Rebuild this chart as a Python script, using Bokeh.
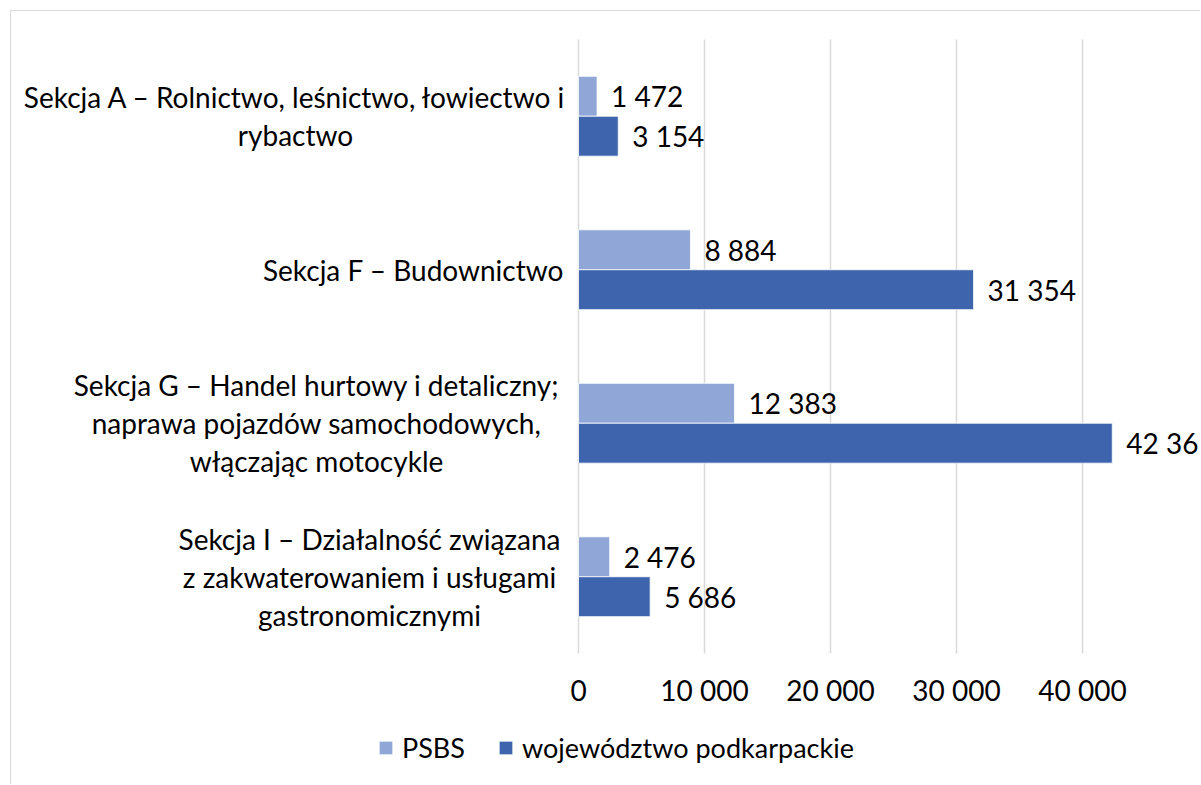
from bokeh.plotting import figure
from bokeh.models import (ColumnDataSource, LabelSet, Range1d, Legend, LegendItem)
from bokeh.core.properties import value
from bokeh.embed import file_html
from bokeh.resources import INLINE

# ---- data ----
categories = [
    "Sekcja A – Rolnictwo, leśnictwo, łowiectwo i\nrybactwo",
    "Sekcja F – Budownictwo",
    "Sekcja G – Handel hurtowy i detaliczny;\nnaprawa pojazdów samochodowych,\nwłączając motocykle",
    "Sekcja I – Działalność związana\nz zakwaterowaniem i usługami\ngastronomicznymi",
]
series_names = ["PSBS", "województwo podkarpackie"]
psbs = [1472, 8884, 12383, 2476]
podkarpackie = [3154, 31354, 42361, 5686]
x_ticks = [0, 10000, 20000, 30000, 40000]
x_tick_labels = ["0", "10 000", "20 000", "30 000", "40 000"]

# ---- style / layout ----
FONT = value("Lato")
FS_PX = "28px"
FS = value(FS_PX)
LIGHT = "#8FA6D6"
DARK = "#3D64AD"
GRID = "#D9D9D9"
BAR_H = 0.26
# horizontal offsets (px) of the category label block centres from the value axis 0
cat_offsets = [-283, -165, -262, -209]
LINE_SPACING = 38      # px between wrapped category label lines
TICK_LABEL_DROP = 37   # px below the plotting band


def fmt(v):
    return f"{v:,}".replace(",", " ")


n = len(categories)
idx = list(range(n))
band_lo, band_hi = -0.5, n - 0.5

p = figure(width=1190, height=774, output_backend="svg", toolbar_location=None,
           x_range=Range1d(-45000, 49444),
           y_range=Range1d(band_hi + 0.86, band_lo - 0.1824),
           min_border_left=0, min_border_right=0, min_border_top=0,
           min_border_bottom=0)
p.styles = {"margin-left": "10px", "margin-top": "10px",
            "border-left": "1px solid #d9d9d9", "border-top": "1px solid #d9d9d9"}
p.outline_line_color = None
p.background_fill_color = "white"
p.border_fill_color = "white"
p.xaxis.visible = False
p.yaxis.visible = False
p.xgrid.visible = False
p.ygrid.visible = False

# vertical gridlines at the value ticks, spanning the category band
grid_src = ColumnDataSource(dict(x=x_ticks, y0=[band_lo] * len(x_ticks),
                                 y1=[band_hi] * len(x_ticks), t=x_tick_labels))
p.segment(x0="x", y0="y0", x1="x", y1="y1", source=grid_src,
          line_color=GRID, line_width=1.5)

src_a = ColumnDataSource(dict(y=[i - BAR_H / 2 for i in idx], v=psbs,
                              t=[fmt(v) for v in psbs]))
src_b = ColumnDataSource(dict(y=[i + BAR_H / 2 for i in idx], v=podkarpackie,
                              t=[fmt(v) for v in podkarpackie]))

r_a = p.hbar(y="y", left=0, right="v", height=BAR_H, source=src_a,
             fill_color=LIGHT, line_color="white", line_width=0.8)
r_b = p.hbar(y="y", left=0, right="v", height=BAR_H, source=src_b,
             fill_color=DARK, line_color="white", line_width=0.8)

for s in (src_a, src_b):
    p.add_layout(LabelSet(x="v", y="y", text="t", source=s, x_offset=14,
                          text_baseline="middle", text_align="left",
                          text_font=FONT, text_font_size=FS, text_color="black"))

# category labels: one centred label per wrapped line
lx, ly, lt, lxo, lyo = [], [], [], [], []
for i, (cat, off) in enumerate(zip(categories, cat_offsets)):
    lines = cat.split("\n")
    m = len(lines)
    for j, line in enumerate(lines):
        lx.append(0)
        ly.append(i)
        lt.append(line)
        lxo.append(off)
        lyo.append(((m - 1) / 2 - j) * LINE_SPACING)
cat_src = ColumnDataSource(dict(x=lx, y=ly, t=lt, xo=lxo, yo=lyo))
p.add_layout(LabelSet(x="x", y="y", text="t", source=cat_src, x_offset="xo",
                      y_offset="yo", text_align="center", text_baseline="middle",
                      text_font=FONT, text_font_size=FS, text_color="black"))

# value-axis tick labels
p.add_layout(LabelSet(x="x", y="y1", text="t", source=grid_src,
                      y_offset=-TICK_LABEL_DROP, text_align="center",
                      text_baseline="middle", text_font=FONT, text_font_size=FS,
                      text_color="black"))

legend = Legend(items=[LegendItem(label=series_names[0], renderers=[r_a]),
                       LegendItem(label=series_names[1], renderers=[r_b])],
                orientation="horizontal", location=(366, 21),
                glyph_width=17, glyph_height=17, label_standoff=8, spacing=32,
                padding=0, margin=0, border_line_color=None,
                background_fill_alpha=0, label_text_font="Lato",
                label_text_font_size="27px", label_text_color="black")
p.add_layout(legend, "center")

open("out.html", "w").write(file_html(p, INLINE))
